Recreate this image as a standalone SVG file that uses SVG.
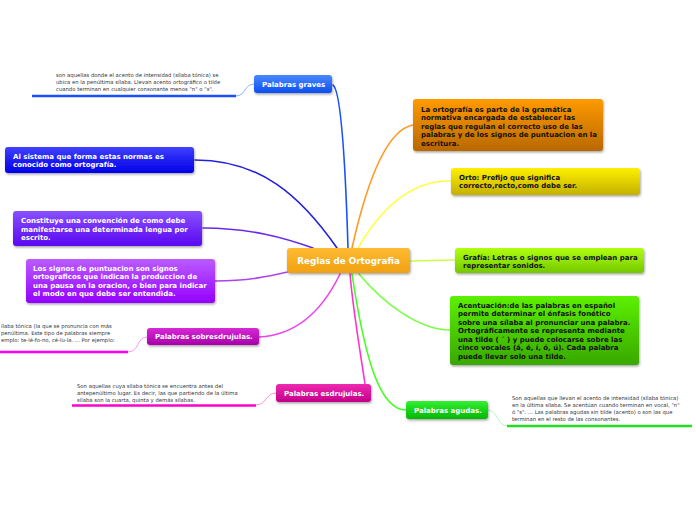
<svg xmlns="http://www.w3.org/2000/svg" width="696" height="520" viewBox="0 0 696 520">
<defs>
<filter id="sh" x="-10%" y="-20%" width="120%" height="150%"><feDropShadow dx="0.8" dy="1.5" stdDeviation="1" flood-color="#000" flood-opacity="0.35"/></filter>
<linearGradient id="gCenter" x1="0" y1="0" x2="0" y2="1"><stop offset="0" stop-color="#ffbb33"/><stop offset="1" stop-color="#f0a010"/></linearGradient>
<linearGradient id="gGraves" x1="0" y1="0" x2="0" y2="1"><stop offset="0" stop-color="#4a88ff"/><stop offset="1" stop-color="#0c4ff0"/></linearGradient>
<linearGradient id="gSistema" x1="0" y1="0" x2="0" y2="1"><stop offset="0" stop-color="#4040ff"/><stop offset="1" stop-color="#0000e8"/></linearGradient>
<linearGradient id="gConst" x1="0" y1="0" x2="0" y2="1"><stop offset="0" stop-color="#8850ff"/><stop offset="1" stop-color="#5a08f0"/></linearGradient>
<linearGradient id="gSignos" x1="0" y1="0" x2="0" y2="1"><stop offset="0" stop-color="#bb5cff"/><stop offset="1" stop-color="#9400ff"/></linearGradient>
<linearGradient id="gSobre" x1="0" y1="0" x2="0" y2="1"><stop offset="0" stop-color="#d62ad6"/><stop offset="1" stop-color="#a800a8"/></linearGradient>
<linearGradient id="gEsdr" x1="0" y1="0" x2="0" y2="1"><stop offset="0" stop-color="#ee2ab0"/><stop offset="1" stop-color="#c4008a"/></linearGradient>
<linearGradient id="gAgudas" x1="0" y1="0" x2="0" y2="1"><stop offset="0" stop-color="#33f033"/><stop offset="1" stop-color="#00b800"/></linearGradient>
<linearGradient id="gOrange" x1="0" y1="0" x2="0" y2="1"><stop offset="0" stop-color="#ff9a00"/><stop offset="1" stop-color="#b86800"/></linearGradient>
<linearGradient id="gYellow" x1="0" y1="0" x2="0" y2="1"><stop offset="0" stop-color="#fff000"/><stop offset="1" stop-color="#c4b000"/></linearGradient>
<linearGradient id="gGrafia" x1="0" y1="0" x2="0" y2="1"><stop offset="0" stop-color="#b0ff10"/><stop offset="1" stop-color="#74c800"/></linearGradient>
<linearGradient id="gAcent" x1="0" y1="0" x2="0" y2="1"><stop offset="0" stop-color="#5cf000"/><stop offset="1" stop-color="#38a800"/></linearGradient>
</defs>
<style>
.node{filter:url(#sh);}
.t{font-family:"DejaVu Sans",Verdana,sans-serif;font-weight:bold;font-size:7px;}
.w{fill:#ffffff;}
.k{fill:#111111;}
.n{font-family:"DejaVu Sans",Verdana,sans-serif;font-size:5.3px;fill:#333333;}
.c{fill:none;stroke-linecap:round;}
</style>
<rect width="696" height="520" fill="#ffffff"/>
<g id="connectors">
<path class="c" d="M333,85 C340,90 345,150 348,248" stroke="#1a50ff" stroke-width="1.6"/>
<path class="c" d="M195,160 C260,160 300,195 337,248" stroke="#2020dd" stroke-width="1.6"/>
<path class="c" d="M203,228 C250,228 285,238 313,248" stroke="#6a2aee" stroke-width="1.6"/>
<path class="c" d="M215,281 C250,281 270,276 292,271" stroke="#aa44ee" stroke-width="1.6"/>
<path class="c" d="M259,337 C300,335 325,305 340,274" stroke="#ee44ee" stroke-width="1.6"/>
<path class="c" d="M365,384 C360,350 353,310 350,274" stroke="#ff33cc" stroke-width="1.6"/>
<path class="c" d="M406,410 C380,410 365,360 352,274" stroke="#44ff22" stroke-width="1.6"/>
<path class="c" d="M413,125 C385,130 365,190 352,248" stroke="#ff9922" stroke-width="1.6"/>
<path class="c" d="M451,181 C410,180 380,210 358,248" stroke="#ffff44" stroke-width="1.6"/>
<path class="c" d="M410,261 L455,260" stroke="#ccff44" stroke-width="1.6"/>
<path class="c" d="M359,274 C385,305 420,330 450,330" stroke="#77ff44" stroke-width="1.6"/>
<path class="c" d="M236,96 C246,96 244,84 254,84" stroke="#6f9cff" stroke-width="0.8"/>
<path class="c" d="M128,352 C140,352 136,337 147,337" stroke="#ff77ff" stroke-width="0.8"/>
<path class="c" d="M256,405 C267,405 265,393 276,393" stroke="#ff77cc" stroke-width="0.8"/>
<path class="c" d="M488,410 C498,410 497,426 507,426" stroke="#aaeeaa" stroke-width="0.8"/>
<line x1="32" y1="96" x2="236" y2="96" stroke="#1a50ff" stroke-width="2.4"/>
<line x1="0" y1="352" x2="128" y2="352" stroke="#ff00ff" stroke-width="2.4"/>
<line x1="72" y1="405.5" x2="256" y2="405.5" stroke="#ff00cc" stroke-width="2.4"/>
<line x1="507" y1="426" x2="692" y2="426" stroke="#22dd22" stroke-width="2.4"/>
</g>
<g id="center">
<rect class="node" x="287" y="248" width="123" height="25" rx="3" fill="url(#gCenter)"/>
<text class="t w" x="348.5" y="264" text-anchor="middle" style="font-size:8.8px">Reglas de Ortografia</text>
</g>
<g id="graves">
<rect class="node" x="254" y="75" width="78" height="18" rx="3" fill="url(#gGraves)"/>
<text class="t w" x="262" y="86.5">Palabras graves</text>
</g>
<g id="graves-notes">
<text class="n" x="56" y="77">son aquellas donde el acento de intensidad (sílaba tónica) se</text>
<text class="n" x="56" y="84">ubica en la penúltima sílaba. Llevan acento ortográfico o tilde</text>
<text class="n" x="56" y="91">cuando terminan en cualquier consonante menos "n" o "s".</text>
</g>
<g id="sistema">
<rect class="node" x="5" y="147" width="189" height="26" rx="3" fill="url(#gSistema)"/>
<text class="t w" x="13" y="158.5">Al sistema que forma estas normas es</text>
<text class="t w" x="13" y="167.2">conocido como ortografía.</text>
</g>
<g id="constituye">
<rect class="node" x="13" y="211" width="189" height="35" rx="3" fill="url(#gConst)"/>
<text class="t w" x="21" y="223">Constituye una convención de como debe</text>
<text class="t w" x="21" y="231.5">manifestarse una determinada lengua por</text>
<text class="t w" x="21" y="240">escrito.</text>
</g>
<g id="signos">
<rect class="node" x="26" y="259" width="189" height="44" rx="3" fill="url(#gSignos)"/>
<text class="t w" x="33" y="270.8">Los signos de puntuacion son signos</text>
<text class="t w" x="33" y="279.2">ortograficos que indican la produccion de</text>
<text class="t w" x="33" y="287.6">una pausa en la oracion, o bien para indicar</text>
<text class="t w" x="33" y="296">el modo en que debe ser entendida.</text>
</g>
<g id="sobresdrujulas">
<rect class="node" x="147" y="328" width="112" height="17" rx="3" fill="url(#gSobre)"/>
<text class="t w" x="155" y="339.3">Palabras sobresdrujulas.</text>
</g>
<g id="sobresdrujulas-notes">
<text class="n" x="1" y="328">ílaba tónica (la que se pronuncia con más</text>
<text class="n" x="1" y="335">penúltima. Este tipo de palabras siempre</text>
<text class="n" x="1" y="342">emplo: te-lé-fo-no, cé-lu-la. ... Por ejemplo:</text>
</g>
<g id="esdrujulas">
<rect class="node" x="276" y="384" width="95" height="18" rx="3" fill="url(#gEsdr)"/>
<text class="t w" x="284" y="395.8">Palabras esdrujulas.</text>
</g>
<g id="esdrujulas-notes">
<text class="n" x="77" y="387.5">Son aquellas cuya sílaba tónica se encuentra antes del</text>
<text class="n" x="77" y="394.5">antepenúltimo lugar. Es decir, las que partiendo de la última</text>
<text class="n" x="77" y="401.5">sílaba son la cuarta, quinta y demás sílabas.</text>
</g>
<g id="agudas">
<rect class="node" x="406" y="401" width="82" height="18" rx="3" fill="url(#gAgudas)"/>
<text class="t w" x="414" y="412.6">Palabras agudas.</text>
</g>
<g id="agudas-notes">
<text class="n" x="512" y="400">Son aquellas que llevan el acento de intensidad (sílaba tónica)</text>
<text class="n" x="512" y="407">en la última sílaba. Se acentúan cuando terminan en vocal, "n"</text>
<text class="n" x="512" y="414">ó "s". ... Las palabras agudas sin tilde (acento) o son las que</text>
<text class="n" x="512" y="421">terminan en el resto de las consonantes.</text>
</g>
<g id="ortografia-def">
<rect class="node" x="413" y="99" width="190" height="52" rx="3" fill="url(#gOrange)"/>
<text class="t k" x="421" y="111.5">La ortografía es parte de la gramática</text>
<text class="t k" x="421" y="120">normativa encargada de establecer las</text>
<text class="t k" x="421" y="128.5">reglas que regulan el correcto uso de las</text>
<text class="t k" x="421" y="137">palabras y de los signos de puntuacion en la</text>
<text class="t k" x="421" y="145.5">escritura.</text>
</g>
<g id="orto">
<rect class="node" x="451" y="168" width="189" height="27" rx="3" fill="url(#gYellow)"/>
<text class="t k" x="459" y="179.8">Orto: Prefijo que significa</text>
<text class="t k" x="459" y="188.2">correcto,recto,como debe ser.</text>
</g>
<g id="grafia">
<rect class="node" x="455" y="248" width="189" height="25" rx="3" fill="url(#gGrafia)"/>
<text class="t k" x="463" y="259.5">Grafía: Letras o signos que se emplean para</text>
<text class="t k" x="463" y="268">representar sonidos.</text>
</g>
<g id="acentuacion">
<rect class="node" x="450" y="296" width="189" height="69" rx="3" fill="url(#gAcent)"/>
<text class="t k" x="458" y="307.5">Acentuación:de las palabras en español</text>
<text class="t k" x="458" y="316">permite determinar el énfasis fonético</text>
<text class="t k" x="458" y="324.5">sobre una sílaba al pronunciar una palabra.</text>
<text class="t k" x="458" y="333">Ortográficamente se representa mediante</text>
<text class="t k" x="458" y="341.5">una tilde ( ´ ) y puede colocarse sobre las</text>
<text class="t k" x="458" y="350">cinco vocales (á, é, í, ó, ú). Cada palabra</text>
<text class="t k" x="458" y="358.5">puede llevar solo una tilde.</text>
</g>
</svg>
